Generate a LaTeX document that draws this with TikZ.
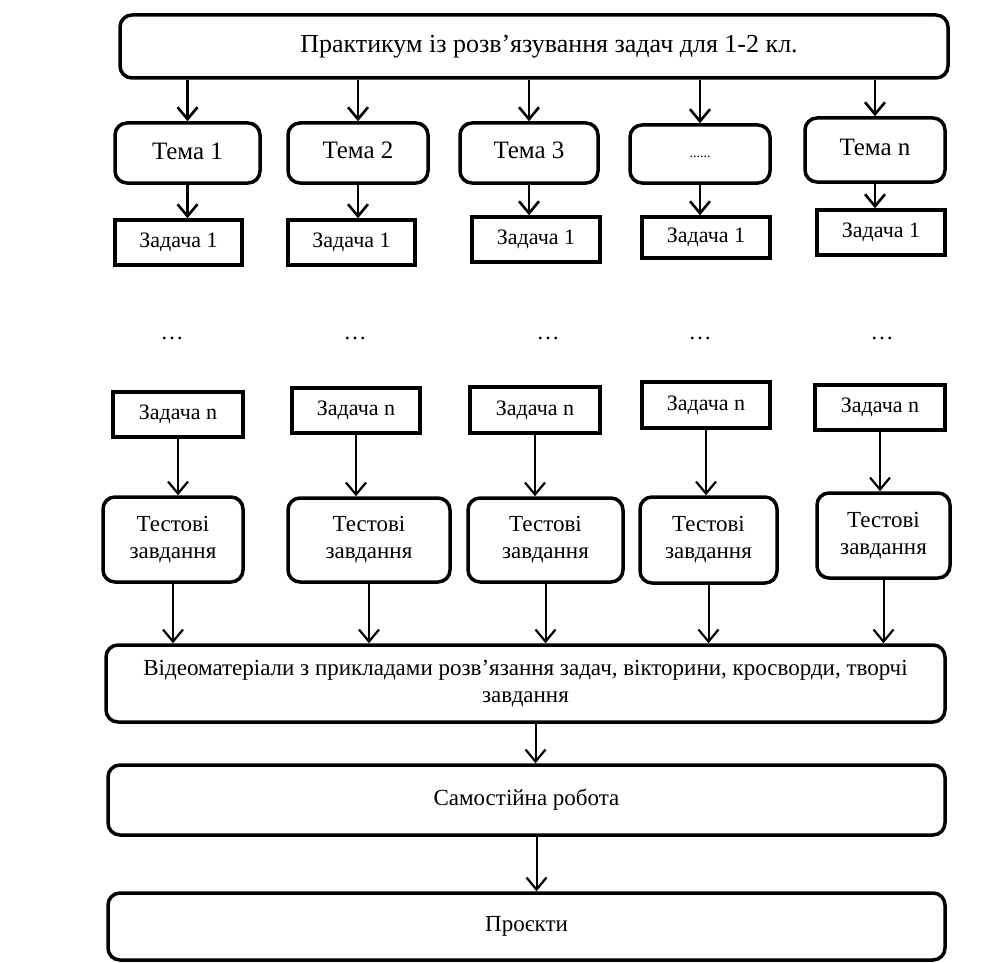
\documentclass[tikz,border=0pt]{standalone}
\usepackage{fontspec}
\setmainfont{Liberation Serif}
\usetikzlibrary{arrows.meta}
\begin{document}
\begin{tikzpicture}[x=1pt,y=-1pt,
  rbox/.style={draw,line width=3.5pt,rounded corners=12pt,inner sep=0pt,align=center,font=\fontsize{23}{27}\selectfont},
  sbox/.style={draw,line width=3.5pt,inner sep=0pt,align=center,font=\fontsize{22}{26}\selectfont},
  bigtext/.style={font=\fontsize{26}{30}\selectfont},
  dotsnode/.style={inner sep=0pt,font=\fontsize{23}{27}\selectfont},
  arr/.style={line width=2pt,-{Straight Barb[length=12pt,width=20pt,line width=2.2pt]}},
  tarr/.style={line width=2.6pt,-{Straight Barb[length=12pt,width=20pt,line width=2.6pt]}}]
\useasboundingbox (0,0) rectangle (988,963);
% top
\node[rbox,bigtext,minimum width=828pt,minimum height=63pt] (top) at (534,46.5) {\hspace*{30pt}Практикум із розв’язування задач для 1-2 кл.};
% themes
\node[rbox,font=\fontsize{25}{29}\selectfont,minimum width=145pt,minimum height=60pt] (t1) at (187.5,153) {\raisebox{3pt}{Тема 1}};
\node[rbox,font=\fontsize{25}{29}\selectfont,minimum width=140pt,minimum height=60pt] (t2) at (358,153) {\raisebox{5pt}{Тема 2}};
\node[rbox,font=\fontsize{25}{29}\selectfont,minimum width=138pt,minimum height=60pt] (t3) at (529,153) {\raisebox{5pt}{Тема 3}};
\node[rbox,minimum width=140pt,minimum height=58pt] (t4) at (700,154) {\raisebox{-8pt}{\fontsize{14}{16}\selectfont ......}};
\node[rbox,font=\fontsize{25}{29}\selectfont,minimum width=140pt,minimum height=64pt] (t5) at (875,150) {\raisebox{5pt}{Тема n}};
% task 1
\node[sbox,minimum width=127pt,minimum height=45pt] (z1) at (178.5,242.5) {Задача 1};
\node[sbox,minimum width=127pt,minimum height=45pt] (z2) at (351.5,242.5) {Задача 1};
\node[sbox,minimum width=128pt,minimum height=45pt] (z3) at (536,239.5) {Задача 1};
\node[sbox,minimum width=128pt,minimum height=41pt] (z4) at (706,237.5) {Задача 1};
\node[sbox,minimum width=128pt,minimum height=45pt] (z5) at (881,232.5) {Задача 1};
% dots
\node[dotsnode] (d1) at (172,338) {…};
\node[dotsnode] (d2) at (355,338) {…};
\node[dotsnode] (d3) at (548,338) {…};
\node[dotsnode] (d4) at (700,338) {…};
\node[dotsnode] (d5) at (882,338) {…};
% task n
\node[sbox,minimum width=130pt,minimum height=45pt] (n1) at (178,414.5) {Задача n};
\node[sbox,minimum width=128pt,minimum height=45pt] (n2) at (356,410.5) {Задача n};
\node[sbox,minimum width=130pt,minimum height=46pt] (n3) at (535,410) {Задача n};
\node[sbox,minimum width=128pt,minimum height=46pt] (n4) at (706,405) {Задача n};
\node[sbox,minimum width=130pt,minimum height=45pt] (n5) at (880,407.5) {Задача n};
% tests
\node[rbox,minimum width=140pt,minimum height=85pt] (s1) at (173,539.5) {Тестові\\завдання};
\node[rbox,minimum width=162pt,minimum height=84pt] (s2) at (369,540) {Тестові\\завдання};
\node[rbox,minimum width=155pt,minimum height=84pt] (s3) at (545.5,540) {Тестові\\завдання};
\node[rbox,minimum width=137pt,minimum height=86pt] (s4) at (708.5,540) {Тестові\\завдання};
\node[rbox,minimum width=133pt,minimum height=85pt] (s5) at (883.5,535.5) {Тестові\\завдання};
% bottom
\node[rbox,minimum width=839pt,minimum height=77pt] (video) at (525.5,683.5) {Відеоматеріали з прикладами розв’язання задач, вікторини, кросворди, творчі\\завдання};
\node[rbox,minimum width=837pt,minimum height=70pt] (self) at (526.5,800) {Самостійна робота};
\node[rbox,minimum width=837pt,minimum height=67pt] (proj) at (526.5,926.5) {Проєкти};
% arrows
\foreach \i in {1,...,5}{
  \draw[tarr] (top.south -| t\i.north) -- (t\i.north);
  \draw[tarr] (t\i.south) -- (t\i.south |- z\i.north);
  \draw[arr] (n\i.south) -- (n\i.south |- s\i.north);
  \draw[arr] (s\i.south) -- (s\i.south |- video.north);
}
\draw[arr] ([xshift=10pt]video.south) -- ([xshift=10pt]video.south |- self.north);
\draw[arr] ([xshift=10pt]self.south) -- ([xshift=10pt]self.south |- proj.north);
\end{tikzpicture}
\end{document}
